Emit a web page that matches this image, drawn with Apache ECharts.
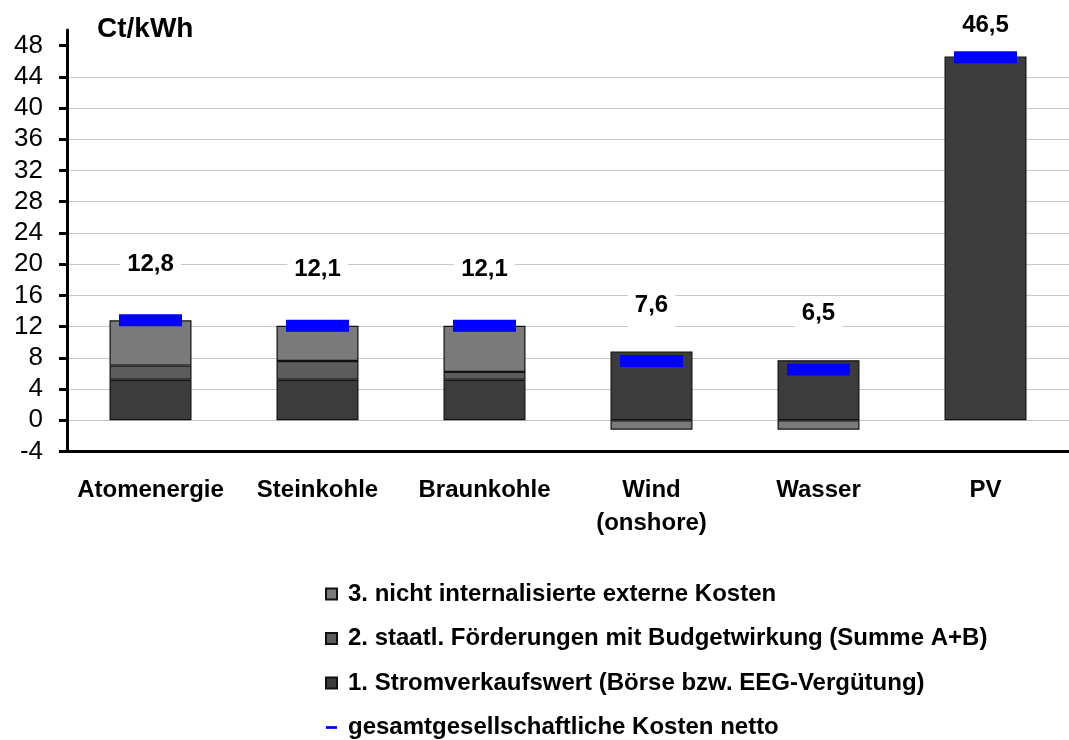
<!DOCTYPE html>
<html>
<head>
<meta charset="utf-8">
<script src="https://cdn.jsdelivr.net/npm/echarts@6/dist/echarts.min.js"></script>
<style>
  html, body { margin: 0; padding: 0; background: #fff; }
  #chart { width: 1069px; height: 740px; }
</style>
</head>
<body>
<div id="chart"></div>
<script>
const categories = ['Atomenergie', 'Steinkohle', 'Braunkohle', 'Wind\n(onshore)', 'Wasser', 'PV']

// Ct/kWh
const stromwert = [5.2, 5.2, 5.2, 8.8, 7.7, 46.6]
const foerderung = [1.8, 2.4, 1.0, null, null, null]
const externeKosten = [5.8, 4.5, 5.9, -1.2, -1.2, null]
const nettoKosten = [12.8, 12.1, 12.1, 7.6, 6.5, 46.5]

const yTicks = [-4, 0, 4, 8, 12, 16, 20, 24, 28, 32, 36, 40, 44, 48]

const NAMES = [
  '3. nicht internalisierte externe Kosten',
  '2. staatl. Förderungen mit Budgetwirkung (Summe A+B)',
  '1. Stromverkaufswert (Börse bzw. EEG-Vergütung)',
  'gesamtgesellschaftliche Kosten netto',
]

const FONT = '"Liberation Sans", Arial, sans-serif'
const BAR_BORDER = { borderColor: '#111', borderWidth: 1.2 }

const chart = echarts.init(document.getElementById('chart'))

function barSeries(name, data, color) {
  return {
    name,
    type: 'bar',
    stack: 'kosten',
    barWidth: 82,
    data,
    itemStyle: { color, ...BAR_BORDER },
  }
}

const nettoData = nettoKosten.map((v, i) => {
  // the PV label sits pinned near the top of the plot
  if (i === nettoKosten.length - 1) return { value: v, label: { distance: 1 } }
  return v
})

chart.setOption({
  animation: false,
  textStyle: { fontFamily: FONT },
  title: {
    text: 'Ct/kWh',
    left: 92,
    top: 12,
    padding: [3, 9, 5, 5],
    backgroundColor: '#fff',
    textStyle: { fontFamily: FONT, fontWeight: 'bold', fontSize: 28, lineHeight: 28, color: '#000' },
  },
  grid: { left: 67, right: -10, top: 30, bottom: 288.5 },
  legend: {
    orient: 'vertical',
    left: 325,
    top: 582,
    height: 220,
    padding: 0,
    itemWidth: 11,
    itemHeight: 11,
    itemGap: 20.5,
    symbolKeepAspect: true,
    data: [
      { name: NAMES[0], icon: 'rect' },
      { name: NAMES[1], icon: 'rect' },
      { name: NAMES[2], icon: 'rect' },
      { name: NAMES[3], icon: 'path://M0,0h12v3h-12z' },
    ],
    textStyle: {
      fontFamily: FONT, fontWeight: 'bold', fontSize: 24, lineHeight: 24, color: '#000',
      padding: [0, 0, 0, 6],
    },
  },
  xAxis: {
    type: 'category',
    data: categories,
    boundaryGap: true,
    axisLine: { onZero: false, lineStyle: { color: '#000', width: 3 } },
    axisTick: { length: 6, lineStyle: { color: '#000', width: 3 } },
    axisLabel: {
      margin: 22,
      interval: 0,
      color: '#000',
      fontFamily: FONT,
      fontWeight: 'bold',
      fontSize: 24,
      lineHeight: 33,
    },
    splitLine: { show: false },
  },
  yAxis: {
    type: 'value',
    min: -4,
    max: 50,
    interval: 4,
    axisLine: { show: true, lineStyle: { color: '#000', width: 3 } },
    axisTick: { show: true, length: 8, customValues: yTicks, lineStyle: { color: '#000', width: 3 } },
    axisLabel: { margin: 24, customValues: yTicks, color: '#000', fontFamily: FONT, fontSize: 26 },
    splitLine: { showMinLine: false, showMaxLine: false, lineStyle: { color: '#c8c8c8', width: 1 } },
  },
  series: [
    barSeries(NAMES[2], stromwert, '#3c3c3c'),
    barSeries(NAMES[1], foerderung, '#5c5c5c'),
    barSeries(NAMES[0], externeKosten, '#7a7a7a'),
    {
      name: NAMES[3],
      type: 'scatter',
      symbol: 'rect',
      symbolSize: [63, 12],
      z: 5,
      data: nettoData,
      itemStyle: { color: '#0000ff', opacity: 1 },
      label: {
        show: true,
        position: 'top',
        distance: 25,
        formatter: p => p.value.toFixed(1).replace('.', ','),
        backgroundColor: '#fff',
        padding: [3, 7, 13, 7],
        color: '#000',
        fontFamily: FONT,
        fontWeight: 'bold',
        fontSize: 24,
        lineHeight: 24,
      },
      emphasis: { disabled: true },
    },
  ],
})
</script>
</body>
</html>
